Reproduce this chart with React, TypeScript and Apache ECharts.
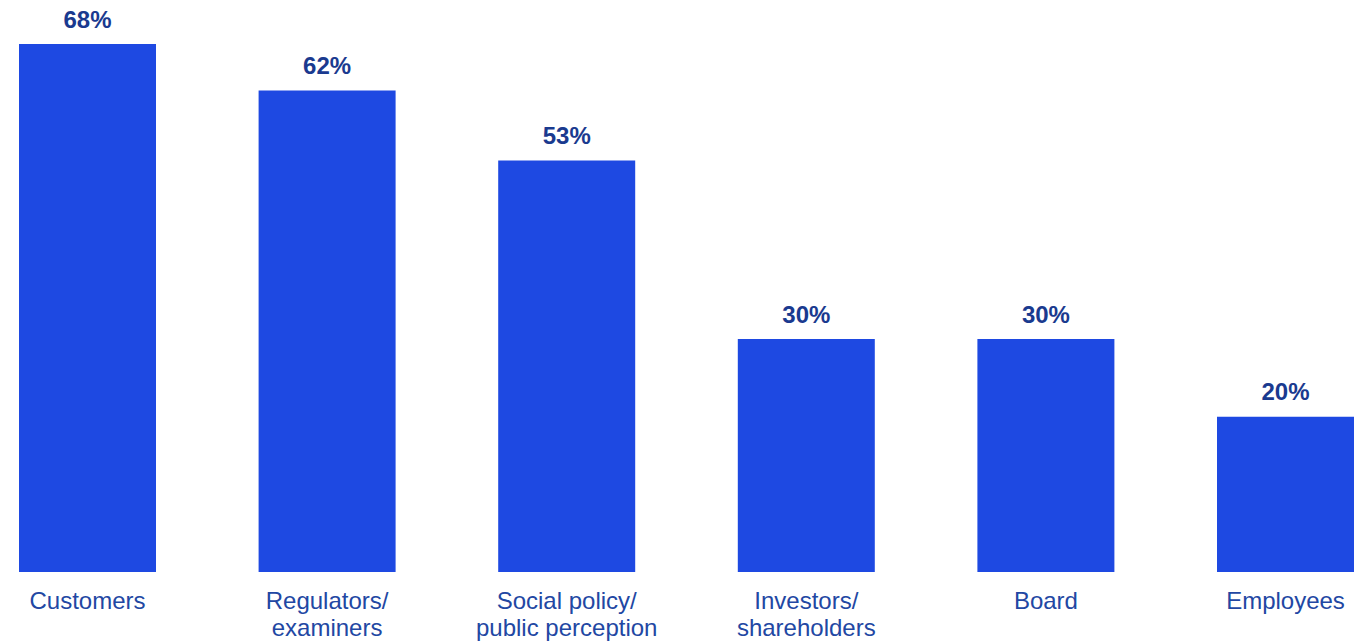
import React, { useEffect, useRef } from "react";
import * as echarts from "echarts";

const categories = [
  "Customers",
  "Regulators/\nexaminers",
  "Social policy/\npublic perception",
  "Investors/\nshareholders",
  "Board",
  "Employees",
];
const values = [68, 62, 53, 30, 30, 20];

export default function App() {
  const ref = useRef<HTMLDivElement>(null);
  useEffect(() => {
    if (!ref.current) return;
    const chart = echarts.init(ref.current, null, { renderer: "svg" });
    chart.setOption({
      animation: false,
      grid: { left: 87.5, right: 69.5, top: 44, bottom: 69, containLabel: false },
      xAxis: {
        type: "category",
        data: categories,
        boundaryGap: false,
        axisLine: { show: false },
        axisTick: { show: false },
        axisLabel: {
          interval: 0,
          margin: 15,
          color: "#2247A3",
          fontSize: 24,
          lineHeight: 27,
          fontFamily: "Liberation Sans, Arial, sans-serif",
        },
      },
      yAxis: {
        type: "value",
        min: 0,
        max: 68,
        show: false,
        splitLine: { show: false },
      },
      series: [
        {
          type: "bar",
          data: values,
          barWidth: 137,
          clip: false,
          itemStyle: { color: "#1E49E2" },
          label: {
            show: true,
            position: "top",
            distance: 13,
            formatter: "{c}%",
            color: "#1A3A8F",
            fontSize: 24,
            lineHeight: 24,
            fontWeight: "bold",
            fontFamily: "Liberation Sans, Arial, sans-serif",
          },
        },
      ],
    });
    return () => chart.dispose();
  }, []);
  return (
    <div
      ref={ref}
      style={{ position: "absolute", left: 0, top: 0, width: 1355, height: 641 }}
    />
  );
}
